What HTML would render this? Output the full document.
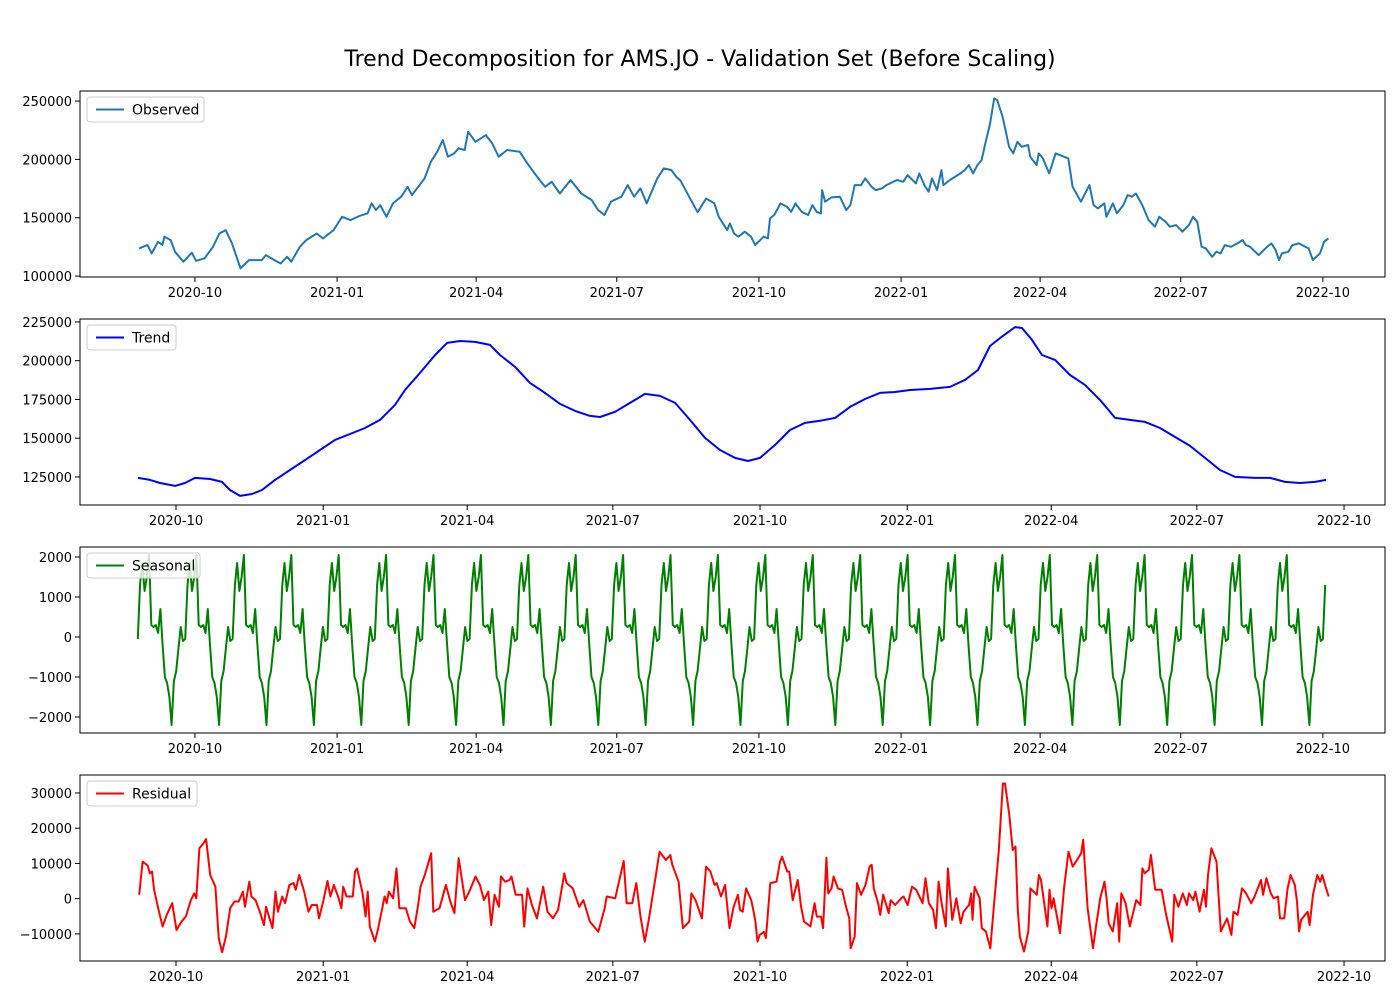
<!DOCTYPE html>
<html><head><meta charset="utf-8"><style>
body{margin:0;background:#fff;}
svg text{font-family:"DejaVu Sans","Liberation Sans",sans-serif;}
</style></head><body>
<svg id="chart" width="1400" height="1000" xmlns="http://www.w3.org/2000/svg">
<rect width="1400" height="1000" fill="#fff"/>
<text x="700" y="66" text-anchor="middle" font-size="22">Trend Decomposition for AMS.JO - Validation Set (Before Scaling)</text>
</svg>
<script>
// days since 2020-08-25, values in thousands
const obsDays=[0.8,6.3,9.0,13.1,15.9,17.2,21.3,24.1,29.5,35.0,37.7,43.2,48.7,52.8,56.9,61.0,66.5,72.0,80.2,82.9,88.4,92.5,96.6,99.3,104.9,109.0,115.8,119.9,126.7,132.2,137.7,143.2,148.7,151.4,154.1,156.9,161.0,165.1,170.5,174.6,177.4,181.5,185.6,189.7,193.8,197.4,200.7,204.8,207.5,211.6,213.8,218.5,225.3,229.4,233.6,239.0,247.2,251.4,256.8,261.0,263.7,267.8,273.2,280.1,287.0,293.8,297.9,302.0,306.2,313.0,317.1,321.2,325.3,329.4,336.2,340.4,345.3,348.5,351.3,356.8,362.3,367.8,373.2,376.0,381.5,383.2,385.9,388.7,392.8,396.9,399.6,405.0,407.8,409.2,411.9,416.0,420.1,422.9,425.6,429.7,433.8,436.6,439.3,442.1,442.9,444.8,448.9,454.4,458.5,461.2,464.0,468.1,470.8,474.9,477.6,481.7,484.5,491.3,495.4,498.2,503.6,505.8,509.1,511.8,514.0,517.3,520.1,521.4,525.6,532.4,535.2,537.9,540.6,543.4,546.1,548.8,551.6,554.3,556.2,559.7,562.5,563.9,566.6,569.3,572.1,576.2,577.6,581.7,583.1,585.8,589.9,594.0,602.2,605.0,610.4,615.9,618.6,621.4,625.5,626.9,631.0,633.7,637.8,640.6,643.3,646.0,650.1,654.2,658.3,661.1,665.2,667.9,672.0,676.1,680.3,683.0,685.7,688.5,691.2,695.3,698.1,700.8,703.5,707.6,711.7,715.0,717.2,719.9,725.4,730.9,733.7,736.4,738.6,740.5,744.6,747.3,751.5,755.6,757.8,760.5,765.1,767.8,770.6];
const obsValues=[123.7,126.5,119.4,129.4,126.6,133.7,130.8,120.8,112.3,120,113.1,115.1,125.1,136.5,139.4,128,106.6,113.7,113.7,118,113.7,110.8,116.5,112.3,125.1,130.8,136.5,132.3,139.4,150.8,148,151.4,153.7,162.3,156.5,160.8,150.8,162.3,168,176.5,169.4,176.5,183.7,198,206.5,216.5,202.3,205.1,209.4,208,223.7,215.1,220.8,213.7,202.3,208,206.5,198,188,180.8,176.5,180.8,170.8,182.3,170.8,165.1,156.5,152.3,163.7,168,178,168,175.1,162.3,183.7,192.3,190.9,185.1,181.7,168,154.7,166.5,162.3,150.8,139.4,145.1,136.5,133.7,138,133.7,126.5,133.7,132.3,149.4,152.3,162.3,159.4,155.1,162.3,155.1,152.3,160.8,155.1,153.7,173.7,163.7,167.4,168,156.5,160.8,178,178,183.7,176.5,173.7,175.1,178,182.3,180.8,186.5,179.4,188,178,172.3,183.7,173.7,190.8,178,182.3,188,190.8,195.1,188,195.1,199.4,215.1,230.8,252.3,250.8,236.5,219.4,210.8,205.1,215.1,210.8,212.3,202.3,195.1,205.1,200.8,188,205.1,200.8,176.5,163.7,178,160.8,158,162.3,150.8,162.3,153.7,160.8,169.4,168,170.8,160.8,148,142.3,150.8,146.5,142.3,143.7,138,143.7,150.8,146.5,125.1,123.7,116.5,120.8,119.4,126.5,125.1,128,130.8,126.5,125.1,118,125.1,128,122.3,113.7,119.4,120.8,126.5,128,125.1,123.7,113.7,119.4,129.4,132.3];
const trendDays=[13.25,20.75,27,36.4,42.6,48.9,58.3,65.75,70.75,77,84.5,90.75,98.9,108.25,117.6,127,136.4,145.75,155.1,164.5,173.9,180.1,189.5,198.9,206.4,214.5,223.9,233.25,239.5,248.9,258.25,267.6,277,286.4,295.75,302,311.4,320.75,330.1,339.5,348.9,358.25,367.6,377,386.4,394.5,402,411.4,420.75,430.1,439.5,448.9,458.25,467.6,477,486.4,495.75,508.25,520.75,530.1,538.25,545.75,552,561.4,565.75,572,578.25,586.4,595.75,605.1,614.5,623.9,633.25,642.6,652,661.4,670.75,680.1,689.5,698.9,711.4,720.75,730.1,739.5,748.9,755.75];
const trendValues=[124.4,123.1,121.1,119.2,121.1,124.4,123.7,121.8,116.6,112.8,114.0,116.6,123.1,129.5,135.9,142.4,148.9,152.7,156.6,161.8,171.5,181.1,192.1,203.7,211.5,212.7,212.1,210.2,203.7,196,185.7,179.2,172.1,167.6,164.4,163.7,167,172.8,178.6,177.3,172.8,161.8,150.2,142.4,137.3,135.3,137.3,145.7,155.3,159.9,161.2,163.1,170.2,175.3,179.2,179.8,181.1,181.8,183.1,187.6,194.0,209.5,214.6,221.7,221.1,213.4,203.7,200.5,190.8,184.4,174.7,163.1,161.8,160.5,156.6,150.8,145.0,137.3,129.5,125.0,124.4,124.4,121.8,121.1,121.8,123.1];
// one seasonal cycle (values), repeated by the decomposition
const seasonalCycle=[-50,1300,1850,1150,1500,2050,300,250,300,100,700,-200,-1000,-1150,-1500,-2200,-1100,-850,-300,250,-100];
const seasonalStepDays=1.461;
const seasonalEndDay=769;
const residDays=[14.0,16.1,19.3,20.6,22.0,23.3,25.9,28.6,31.2,34.6,37.3,40.5,43.1,46.3,48.4,49.7,51.6,54.2,55.8,58.4,61.6,63.7,65.8,68.2,70.9,73.5,76.2,78.8,80.1,82.8,84.1,86.7,89.4,92.0,93.3,97.3,99.2,100.7,103.4,105.2,107.9,110.5,111.8,114.0,117.1,119.8,121.9,125.1,126.4,129.0,131.7,133.5,135.6,138.3,140.4,141.5,143.6,147.5,148.9,150.2,153.6,155.5,156.8,158.1,161.3,163.4,167.4,168.7,170.0,172.7,174.8,176.6,180.6,183.2,185.9,188.5,189.8,192.5,196.5,197.8,201.7,205.7,208.4,211.0,213.7,217.6,220.3,224.2,226.9,229.5,232.2,234.0,236.1,238.8,240.1,242.7,245.4,246.7,249.3,253.3,254.6,256.7,259.4,262.6,266.5,269.2,272.6,275.8,279.7,281.1,285.0,289.0,291.6,295.6,300.9,304.9,306.2,311.5,316.8,318.6,322.1,324.7,327.3,330.0,332.6,336.6,339.2,343.2,345.9,347.2,351.1,353.8,357.8,359.1,361.7,365.7,368.3,371.0,373.6,374.9,377.6,380.2,382.9,385.5,388.2,389.5,391.2,393.3,396.5,397.8,399.1,400.4,401.8,404.4,405.7,408.4,412.3,414.5,415.8,419.0,420.3,422.4,425.6,427.7,429.5,433.5,436.1,437.5,440.1,441.4,443.5,444.6,446.7,448.0,450.7,453.3,456.0,457.8,458.6,461.2,462.6,465.2,467.9,470.5,471.8,473.1,475.8,477.1,479.0,482.4,483.7,486.4,490.3,491.7,494.3,497.0,499.6,503.6,505.4,507.5,510.2,512.0,513.6,515.5,518.1,519.4,522.1,524.7,527.4,529.2,532.6,534.0,534.8,536.1,539.3,540.6,543.2,545.9,548.5,551.2,553.8,555.1,557.8,559.9,561.7,563.1,564.4,567.0,569.7,571.0,575.0,576.3,577.6,581.6,582.9,584.2,585.5,589.5,592.1,594.8,597.4,600.1,602.7,604.0,606.7,610.1,612.0,614.6,617.3,618.6,619.9,622.5,625.2,626.5,627.8,630.5,633.1,637.1,639.7,641.0,642.4,645.0,646.3,649.0,653.0,655.6,659.6,660.9,663.5,666.2,668.8,670.1,672.8,674.1,676.7,679.4,680.7,682.0,684.1,687.3,690.0,693.9,696.6,697.9,700.5,703.2,705.8,709.0,711.1,715.1,716.4,718.5,721.2,723.0,725.7,727.0,729.6,731.7,733.6,736.2,737.6,738.9,740.2,744.2,745.5,747.6,750.3,752.1,753.4,755.5,757.4];
const residValues=[1.1,10.5,9.4,7.2,7.7,2.5,-2.7,-7.9,-4.6,-1.3,-8.9,-6.5,-5.1,-0.4,1.5,0.1,14.3,15.7,16.9,6.7,3.4,-11.2,-15.2,-10.8,-2.7,-0.8,-0.8,2.0,-2.3,4.8,0.6,-0.4,-3.7,-7.5,-2.3,-8.4,2.0,-3.7,0.6,-1.3,3.9,4.4,2.5,6.7,2.0,-3.7,-1.8,-1.8,-5.6,-0.8,5.0,0.6,3.9,0.6,-2.7,3.4,0.6,0.6,7.7,8.6,1.5,-5.1,2.0,-7.9,-12.2,-8.4,0.6,-1.3,2.0,0.1,8.6,-2.7,-2.7,-6.5,-8.4,-1.3,3.4,6.7,12.9,-3.7,-2.7,3.9,-0.8,-4.1,11.5,-0.4,2.0,6.3,3.9,-0.4,2.0,-7.5,1.1,-2.3,6.3,4.8,5.3,6.3,1.1,1.1,-7.9,2.9,-1.8,-5.6,3.4,-3.7,-5.6,-3.2,7.2,4.4,2.9,-2.3,-0.4,-6.5,-9.4,-2.7,0.6,0.1,10.7,-1.3,-1.3,4.4,-5.1,-12.2,-5.6,5.8,13.3,11.0,12.4,9.6,4.8,-8.4,-6.5,1.5,-0.4,-5.6,9.1,7.7,3.9,4.4,0.6,3.9,-8.4,-2.3,1.1,-3.2,-3.7,2.9,-0.4,-3.2,-6.5,-12.2,-10.3,-9.4,-11.2,4.4,4.8,10.5,11.9,7.7,7.7,-0.4,5.3,-2.3,-6.5,-7.9,-1.3,-5.1,-5.1,-8.4,11.6,1.5,2.9,6.3,2.9,2.5,-2.7,-5.6,-14.1,-10.8,4.4,1.1,3.9,9.1,9.6,2.9,-1.3,-4.6,1.1,-4.1,-0.4,-1.8,0.1,0.6,-1.8,3.4,2.5,-1.3,5.8,-1.3,-3.2,-8.4,4.8,-1.3,-7.9,8.6,-6.0,0.1,-7.0,-3.7,-1.8,1.5,-6.0,3.4,0.1,-8.4,-9.3,-14.1,-0.4,13.3,32.7,32.7,23.8,13.8,14.8,-3.2,-10.8,-15.0,-9.3,2.9,1.1,6.7,5.3,-7.9,2.5,-2.7,0.1,-9.8,3.4,13.3,9.1,11.0,12.9,16.7,-2.7,-14.1,-7.9,0.1,4.8,0.1,-7.0,-9.3,-1.3,-12.2,1.5,-1.3,-7.9,-0.4,-1.8,8.6,7.2,8.2,12.4,2.5,2.5,-4.1,-12.2,1.1,-2.3,1.5,-1.8,1.5,-0.4,2.0,-3.7,2.5,-2.3,6.7,14.3,10.5,-9.3,-5.6,-10.3,-3.7,-4.6,2.9,1.5,-1.3,0.6,5.3,1.1,5.8,1.5,0.1,0.6,-5.6,-5.6,2.9,6.7,3.9,-0.8,-9.3,-6.0,-3.7,-7.5,1.1,6.7,4.8,6.7,3.4,0.6];
const dateTickDays=[37,129,219,310,402,494,584,675,767];
const dateTickLabels=["2020-10","2021-01","2021-04","2021-07","2021-10","2022-01","2022-04","2022-07","2022-10"];
const obsTicks=[100000,150000,200000,250000];
const trendTicks=[125000,150000,175000,200000,225000];
const seasTicks=[-2000,-1000,0,1000,2000];
const residTicks=[-10000,0,10000,20000,30000];

const NS="http://www.w3.org/2000/svg";
const svg=document.getElementById('chart');
function mk(tag,attrs,parent){const e=document.createElementNS(NS,tag);for(const k in attrs)e.setAttribute(k,attrs[k]);(parent||svg).appendChild(e);return e;}
function fmt(v){return v<0?'\u2212'+(-v):String(v);}

function panel(name,top,d0,d1,v0,v1,days,vals,scale,yticks,color,label,legendW){
  const L=80,R=1385,T=top,B=top+186;
  const g=mk('g',{});
  
  
  const sx=d=>L+(d-d0)/(d1-d0)*(R-L);
  const sy=v=>B-(v-v0)/(v1-v0)*(B-T);
  let pts=days.map((d,i)=>sx(d).toFixed(1)+','+sy(vals[i]*scale).toFixed(1)).join(' ');
  const line=mk('polyline',{points:pts,fill:'none',stroke:color,'stroke-width':2,'stroke-linejoin':'round'},g);
  
  
  const frame=mk('rect',{x:L,y:T,width:R-L,height:B-T,fill:'none',stroke:'#000','stroke-width':1},g);
  
  
  dateTickDays.forEach((d,i)=>{
    const x=sx(d);
    mk('line',{x1:x,x2:x,y1:B,y2:B+5,stroke:'#000'},g);
    const t=mk('text',{x:x,y:B+20,'text-anchor':'middle','font-size':13},g);
    
    
    t.textContent=dateTickLabels[i];
  });
  yticks.forEach(v=>{
    const y=sy(v);
    mk('line',{x1:L-5,x2:L,y1:y,y2:y,stroke:'#000'},g);
    const t=mk('text',{x:L-8,y:y+5,'text-anchor':'end','font-size':13},g);
    
    
    t.textContent=fmt(v);
  });
  const lg=mk('g',{},g);
  
  
  mk('rect',{x:87,y:T+6,width:legendW,height:25,rx:3,fill:'#fff','fill-opacity':0.8,stroke:'#ccc'},lg);
  mk('line',{x1:96,x2:124,y1:T+18.5,y2:T+18.5,stroke:color,'stroke-width':2},lg);
  const lt=mk('text',{x:132,y:T+23.5,'font-size':14},lg);
  lt.textContent=label;
}
panel('observed',91,-37.4,807.2,99200,258600,obsDays,obsValues,1000,obsTicks,'#1f77b4','Observed',117);
panel('trend',319,-23,792.6,106900,226900,trendDays,trendValues,1000,trendTicks,'#0000ff','Trend',89);
const seasDays=[],seasValues=[];
for(let i=0;i*seasonalStepDays<=seasonalEndDay;i++){seasDays.push(i*seasonalStepDays);seasValues.push(seasonalCycle[i%seasonalCycle.length]);}
panel('seasonal',547,-37.4,807.2,-2400,2250,seasDays,seasValues,1,seasTicks,'#008000','Seasonal',113);
panel('residual',775,-23,792.6,-17700,35100,residDays,residValues,1000,residTicks,'#ff0000','Residual',110);
</script>
</body></html>
